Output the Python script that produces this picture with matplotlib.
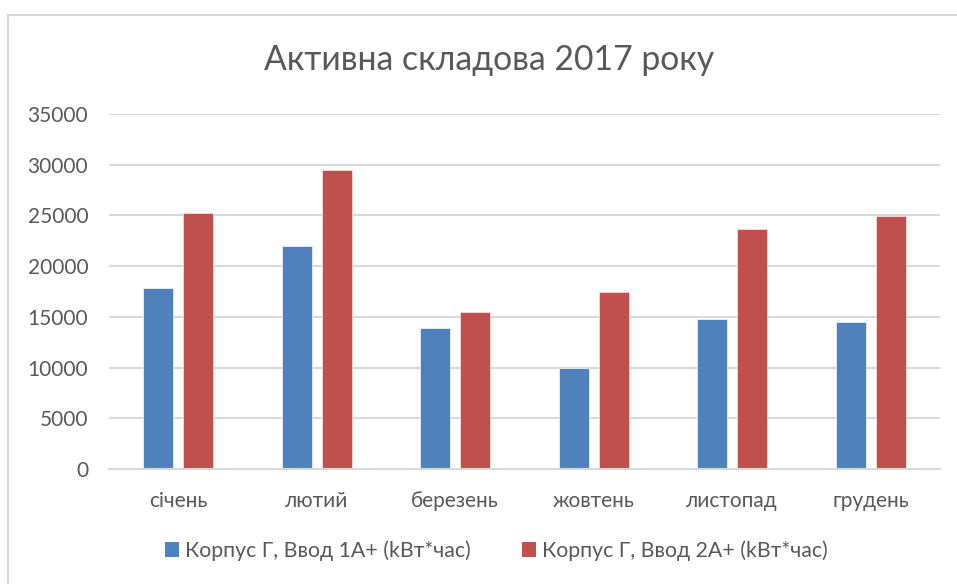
import matplotlib.pyplot as plt
import matplotlib.patches as mpatches
import numpy as np

plt.rcParams['font.family'] = ['Lato', 'DejaVu Sans']

months = ['січень', 'лютий', 'березень', 'жовтень', 'листопад', 'грудень']
vvod1 = [17800, 21950, 13880, 9960, 14790, 14500]
vvod2 = [25280, 29450, 15510, 17430, 23640, 24920]
series_names = ['Корпус Г, Ввод 1А+ (kВт*час)', 'Корпус Г, Ввод 2А+ (kВт*час)']
yticks = [0, 5000, 10000, 15000, 20000, 25000, 30000, 35000]

txt = '#595959'
grid = '#d9d9d9'
blue = '#4F81BD'
red = '#C0504D'

W, H = 957, 584
fig = plt.figure(figsize=(W / 100, H / 100), dpi=100)
ax = fig.add_axes([109 / W, 1 - 469 / H, (940 - 109) / W, (469 - 114) / H])

x = np.arange(len(months))
bw = 0.217
off = 0.145
ax.bar(x - off, vvod1, bw, color=blue, edgecolor='#e8eef7', linewidth=0.6,
       label=series_names[0], zorder=3)
ax.bar(x + off, vvod2, bw, color=red, edgecolor='#f4dcdb', linewidth=0.6,
       label=series_names[1], zorder=3)

ax.set_xlim(-0.5, len(months) - 0.5)
ax.set_ylim(0, 35000)
ax.set_yticks(yticks)
ax.set_yticklabels([str(v) for v in yticks])
ax.set_xticks(x)
ax.set_xticklabels(months)
ax.tick_params(axis='y', length=0, pad=15, labelsize=15, labelcolor=txt)
ax.tick_params(axis='x', length=0, pad=16, labelsize=15, labelcolor=txt)
ax.yaxis.grid(True, color=grid, linewidth=1.5, zorder=0)
for s in ['left', 'right', 'top']:
    ax.spines[s].set_visible(False)
ax.spines['bottom'].set_color(grid)
ax.spines['bottom'].set_linewidth(1.5)
ax.spines['bottom'].set_zorder(4)

fig.text(489 / W, 1 - 60 / H, 'Активна складова 2017 року', ha='center', va='center',
         fontsize=24.3, color=txt)

leg = fig.legend(loc='center', bbox_to_anchor=(496 / W, 1 - 551 / H), ncol=2,
                 frameon=False, fontsize=15.3, labelcolor=txt, handlelength=0.7,
                 handleheight=0.7, handletextpad=0.25, columnspacing=2.4)
for h in leg.legend_handles:
    h.set_linewidth(0)

border = mpatches.Rectangle((8 / W, -0.1), 1.2, 1 - 15 / H + 0.1, transform=fig.transFigure,
                            fill=False, edgecolor=grid, linewidth=1.5)
fig.patches.append(border)

fig.savefig('out.png', dpi=100)
